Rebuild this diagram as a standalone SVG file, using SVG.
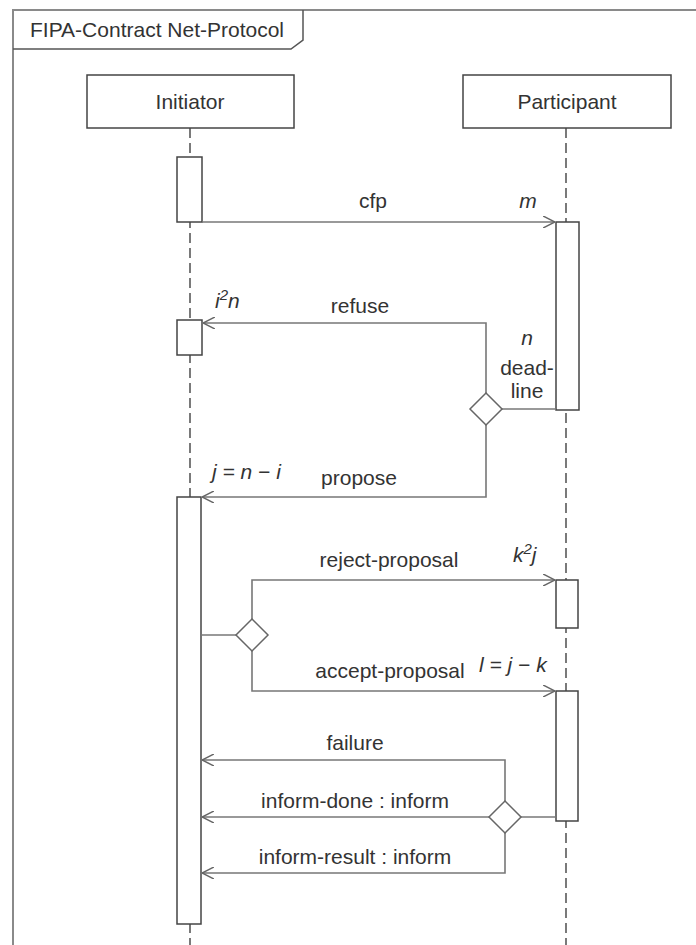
<svg xmlns="http://www.w3.org/2000/svg" width="696" height="945" viewBox="0 0 696 945">
<style>
text{font-family:"Liberation Sans",Arial,sans-serif;font-size:21px;fill:#333}
.it{font-style:italic}
.m{text-anchor:middle}
.frame{fill:none;stroke:#8a8a8a;stroke-width:2}
.box{fill:#fff;stroke:#444;stroke-width:1.5}
.life{stroke:#333;stroke-width:1.3;stroke-dasharray:10 5;fill:none}
.msg{fill:none;stroke:#777;stroke-width:1.6}
.dia{fill:#fff;stroke:#666;stroke-width:1.5}
</style>
<defs>
<marker id="arr" viewBox="0 0 12 12" refX="12" refY="6" markerWidth="12" markerHeight="12" markerUnits="userSpaceOnUse" orient="auto">
<path d="M0,0 L12,6 L0,12" fill="none" stroke="#666" stroke-width="1.5"/>
</marker>
</defs>
<rect width="696" height="945" fill="#fff"/>
<g id="frame">
<path class="frame" d="M13,945 V10 H696"/>
<path d="M13,49 H291 L303,40 V10" fill="none" stroke="#555" stroke-width="1.5"/>
<text x="30" y="37">FIPA-Contract Net-Protocol</text>
</g>
<g id="lifelines">
<line class="life" x1="190" y1="128" x2="190" y2="945"/>
<line class="life" x1="566" y1="128" x2="566" y2="945"/>
</g>
<g id="initiator">
<rect class="box" x="87" y="75" width="207" height="53"/>
<text class="m" x="190" y="109">Initiator</text>
</g>
<g id="participant">
<rect class="box" x="463" y="75" width="208" height="53"/>
<text class="m" x="567" y="109">Participant</text>
</g>
<g id="activations">
<rect class="box" x="177" y="157" width="25" height="65"/>
<rect class="box" x="556" y="222" width="23" height="188"/>
<rect class="box" x="177" y="320" width="25" height="35"/>
<rect class="box" x="177" y="497" width="24" height="427"/>
<rect class="box" x="556" y="580" width="22" height="48"/>
<rect class="box" x="556" y="691" width="22" height="130"/>
</g>
<g id="connectors">
<line class="msg" x1="202" y1="222" x2="555" y2="222" marker-end="url(#arr)"/>
<polyline class="msg" points="486,393 486,323 203,323" marker-end="url(#arr)"/>
<line class="msg" x1="502" y1="409" x2="556" y2="409"/>
<polyline class="msg" points="486,425 486,497 202,497" marker-end="url(#arr)"/>
<line class="msg" x1="201" y1="635" x2="236" y2="635"/>
<polyline class="msg" points="252,619 252,580 555,580" marker-end="url(#arr)"/>
<polyline class="msg" points="252,651 252,691 555,691" marker-end="url(#arr)"/>
<line class="msg" x1="521" y1="817" x2="556" y2="817"/>
<polyline class="msg" points="505,801 505,760 202,760" marker-end="url(#arr)"/>
<line class="msg" x1="489" y1="817" x2="202" y2="817" marker-end="url(#arr)"/>
<polyline class="msg" points="505,833 505,873 202,873" marker-end="url(#arr)"/>
</g>
<g id="decisions">
<polygon class="dia" points="486,393 502,409 486,425 470,409"/>
<polygon class="dia" points="252,619 268,635 252,651 236,635"/>
<polygon class="dia" points="505,801 521,817 505,833 489,817"/>
</g>
<g id="labels">
<text class="m" x="373" y="208">cfp</text>
<text class="m it" x="528" y="208">m</text>
<text class="it" x="215" y="308">i<tspan dy="-8" font-size="15">2</tspan><tspan dy="8">n</tspan></text>
<text class="m" x="360" y="313">refuse</text>
<text class="m it" x="527" y="345">n</text>
<text class="m" x="527" y="375">dead-</text>
<text class="m" x="527" y="398">line</text>
<text class="it" x="212" y="479">j = n − i</text>
<text class="m" x="359" y="485">propose</text>
<text class="m" x="389" y="567">reject-proposal</text>
<text class="it" x="513" y="562">k<tspan dy="-8" font-size="15">2</tspan><tspan dy="8">j</tspan></text>
<text class="m" x="390" y="678">accept-proposal</text>
<text class="it" x="479" y="672">l = j − k</text>
<text class="m" x="355" y="750">failure</text>
<text class="m" x="355" y="808">inform-done : inform</text>
<text class="m" x="355" y="864">inform-result : inform</text>
</g>
</svg>
